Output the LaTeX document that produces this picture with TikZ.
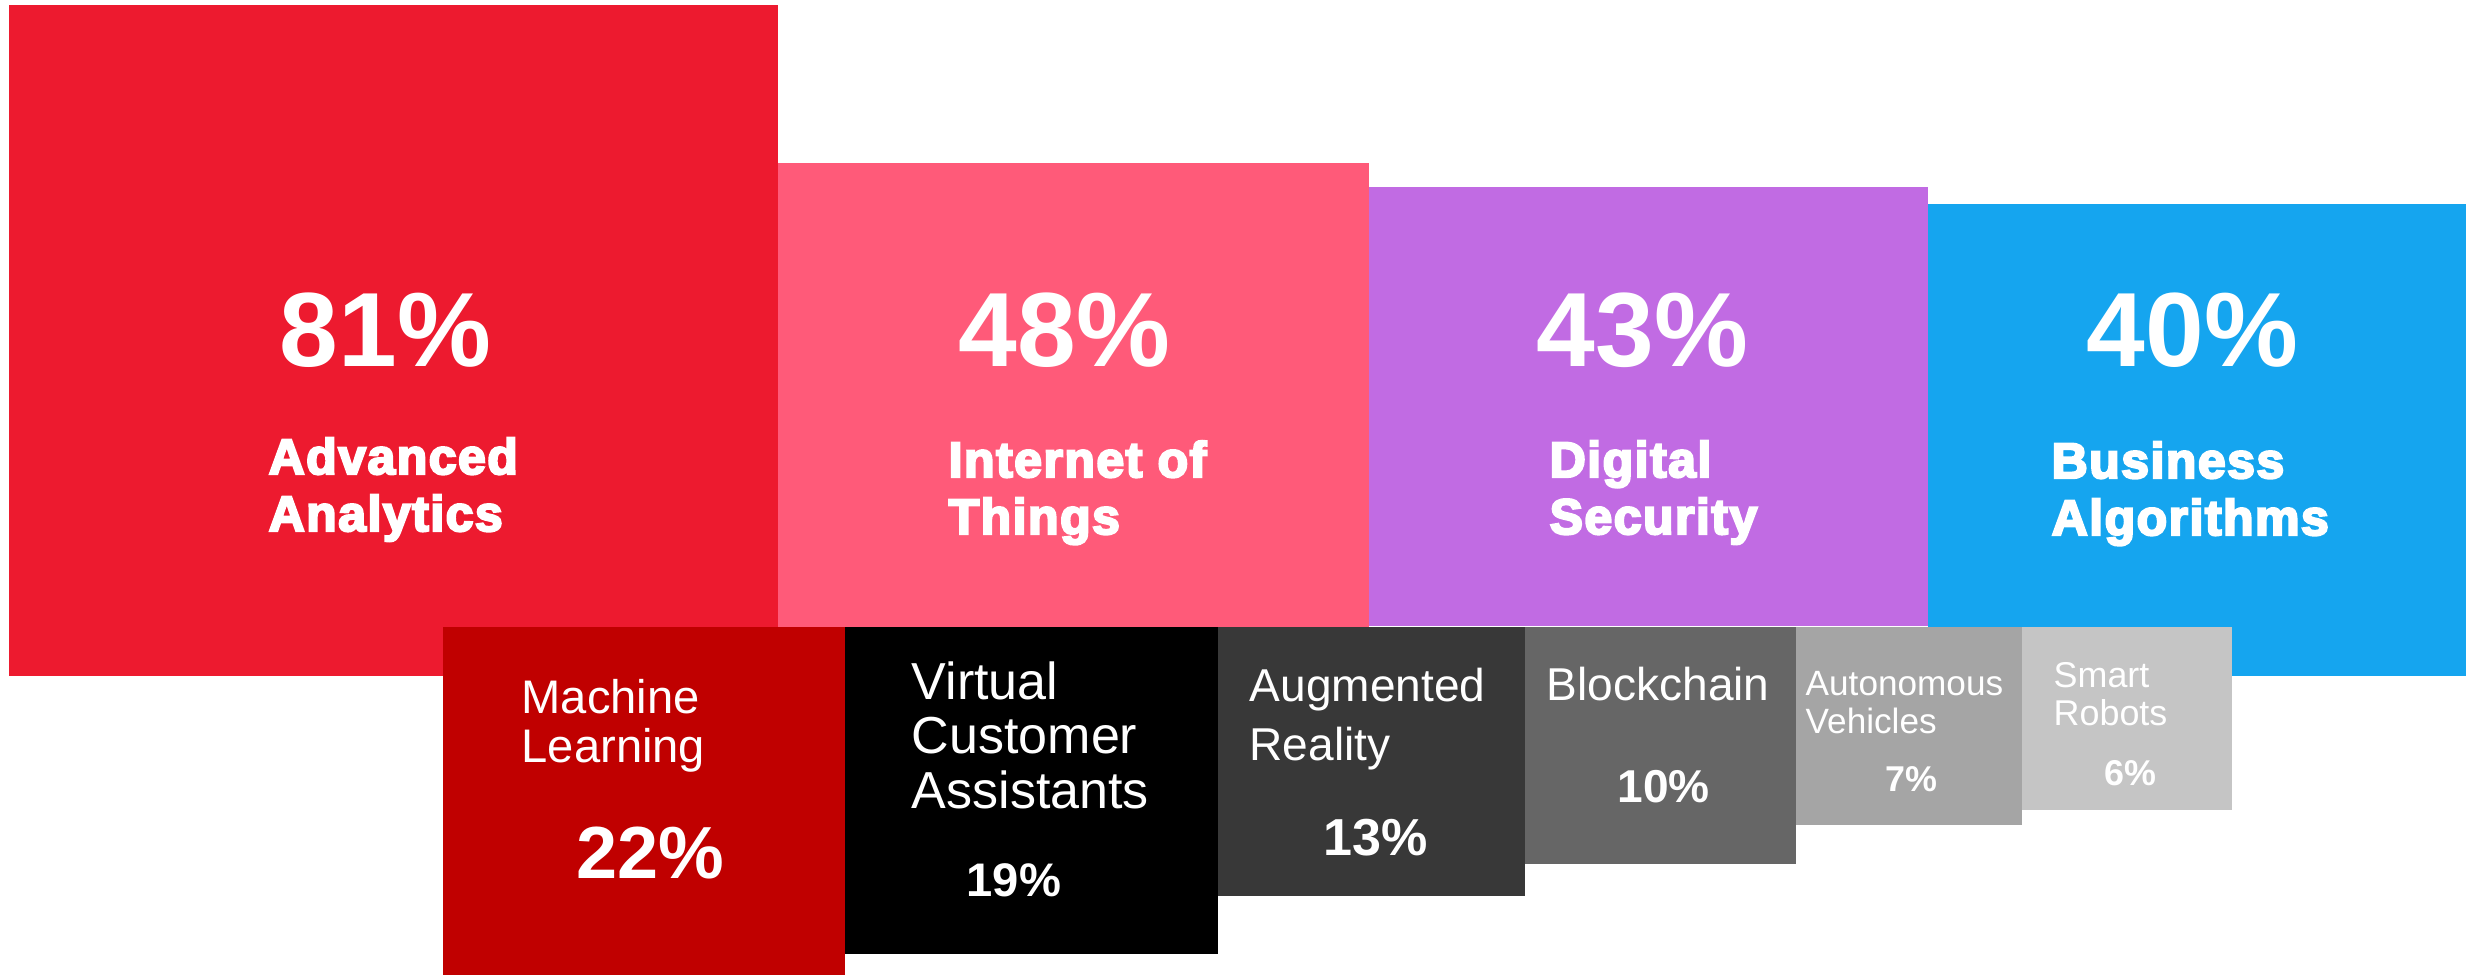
\documentclass[tikz,border=0pt]{standalone}
\usepackage{fontspec}
\setmainfont{Liberation Sans}
\newfontfamily\heavyfont[FakeBold=4.5,LetterSpace=3]{Liberation Sans Bold}
\usetikzlibrary{positioning}
\definecolor{cRed}{HTML}{ED1A2F}
\definecolor{cPink}{HTML}{FF5A79}
\definecolor{cPurple}{HTML}{C16BE3}
\definecolor{cBlue}{HTML}{15A5EF}
\definecolor{cDarkRed}{HTML}{C00000}
\definecolor{cBlack}{HTML}{000000}
\definecolor{cGrayA}{HTML}{383838}
\definecolor{cGrayB}{HTML}{666666}
\definecolor{cGrayC}{HTML}{A5A5A5}
\definecolor{cGrayD}{HTML}{C5C5C5}
\newcommand{\fsz}[2]{\fontsize{#1}{#2}\selectfont}

\begin{document}
\begin{tikzpicture}[x=0.01cm,y=-0.01cm,
    txt/.style={anchor=base west,inner sep=0pt,text=white,align=left},
    bigpct/.style={txt,font=\fsz{30}{30}\bfseries},
    biglbl/.style={txt,font=\fsz{14.2}{16.2}\heavyfont}]

        \useasboundingbox (0,0) rectangle (2466,975); % Khung hình

        % Vẽ các ô lớn
        \foreach \xa/\ya/\xb/\yb/\col in {9/5/778/676/cRed, 778/163/1369/627/cPink,
            1369/187/1928/626/cPurple, 1928/204/2466/676/cBlue}
            \fill[\col] (\xa,\ya) rectangle (\xb,\yb);

        % Vẽ các ô nhỏ
        \foreach \xa/\xb/\yb/\col in {443/845/975/cDarkRed, 845/1218/954/cBlack,
            1218/1525/896/cGrayA, 1525/1796/864/cGrayB, 1796/2022/825/cGrayC, 2022/2232/810/cGrayD}
            \fill[\col] (\xa,627) rectangle (\xb,\yb);

        % Số liệu các ô lớn (mốc = dòng cuối)
        \node[bigpct] (pAnalytics) at (279,366) {81\%};
        \node[biglbl] (lAnalytics) at (268,531) {Advanced\\Analytics};
        \node[bigpct] (pThings) at (958,366) {48\%};
        \node[biglbl] (lThings) at (948,534) {Internet of\\Things};
        \node[bigpct] (pSecurity) at (1536,366) {43\%};
        \node[biglbl] (lSecurity) at (1549,534) {Digital\\Security};
        \node[bigpct] (pAlgo) at (2086,366) {40\%};
        \node[biglbl] (lAlgo) at (2051,535) {Business\\Algorithms};

        % Số liệu các ô nhỏ
        \node[txt,font=\fsz{13.4}{13.9}] (lLearning) at (521,762) {Machine\\Learning};
        \node[txt,font=\fsz{21}{21}\bfseries] (pLearning) at (576,878) {22\%};
        \node[txt,font=\fsz{14.8}{15.5}] (lAssist) at (911,808) {Virtual\\Customer\\Assistants};
        \node[txt,font=\fsz{13.4}{13.4}\bfseries] (pAssist) at (966,896) {19\%};
        \node[txt,font=\fsz{13.1}{16.5}] (lReality) at (1249,760) {Augmented\\Reality};
        \node[txt,font=\fsz{14.8}{14.8}\bfseries] (pReality) at (1323,855) {13\%};
        \node[txt,font=\fsz{13.1}{13.1}] (lChain) at (1546,700) {Blockchain};
        \node[txt,font=\fsz{13.1}{13.1}\bfseries] (pChain) at (1617,802) {10\%};
        \node[txt,font=\fsz{10}{10.8}] (lVehicles) at (1805,733) {Autonomous\\Vehicles};
        \node[txt,font=\fsz{10.2}{10.2}\bfseries] (pVehicles) at (1885,791) {7\%};
        \node[txt,font=\fsz{10.2}{10.8}] (lRobots) at (2053,725) {Smart\\Robots};
        \node[txt,font=\fsz{10.2}{10.2}\bfseries] (pRobots) at (2104,785) {6\%};

\end{tikzpicture}
\end{document}
